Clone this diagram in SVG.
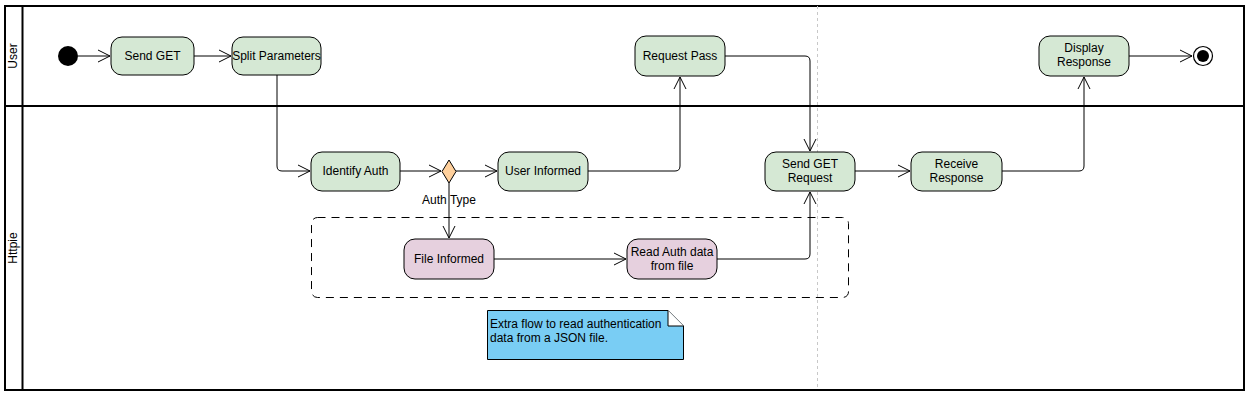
<svg xmlns="http://www.w3.org/2000/svg" width="1254" height="400" viewBox="0 0 1254 400">
<defs>
<marker id="open" viewBox="0 0 14 14" refX="13" refY="7" markerWidth="14" markerHeight="14" markerUnits="userSpaceOnUse" orient="auto">
<path d="M1,1 L13,7 L1,13" fill="none" stroke="#000" stroke-width="1"/>
</marker>
<style>
text{font-family:"Liberation Sans",Arial,sans-serif;font-size:12px;fill:#000}
.act{fill:#d5e8d4;stroke:#000;stroke-width:1}
.pink{fill:#e6d0de;stroke:#000;stroke-width:1}
.lane{fill:none;stroke:#000;stroke-width:2}
.conn{fill:none;stroke:#000;stroke-width:1;marker-end:url(#open)}
.mid{text-anchor:middle}
</style>
</defs>
<rect width="1254" height="400" fill="#fff"/>
<g id="lanes">
<rect class="lane" x="5" y="6" width="1239" height="384"/>
<line class="lane" x1="22.5" y1="6" x2="22.5" y2="390"/>
<line class="lane" x1="5" y1="106" x2="1244" y2="106"/>
<text transform="translate(17,56) rotate(-90)" class="mid">User</text>
<text transform="translate(17,248) rotate(-90)" class="mid">Httpie</text>
</g>
<line x1="817.5" y1="6" x2="817.5" y2="390" stroke="#c8c8c8" stroke-width="1" stroke-dasharray="3,3"/>
<g id="group-box">
<rect x="311.5" y="217.5" width="537" height="80" rx="6" fill="none" stroke="#000" stroke-width="1" stroke-dasharray="8,6"/>
</g>
<g id="connectors">
<line class="conn" x1="78" y1="56" x2="110" y2="56"/>
<line class="conn" x1="194" y1="56" x2="231" y2="56"/>
<path class="conn" d="M277,75 V166 Q277,171 282,171 H310"/>
<line class="conn" x1="400" y1="171" x2="441" y2="171"/>
<line class="conn" x1="456" y1="171" x2="497" y2="171"/>
<line class="conn" x1="449" y1="183" x2="449" y2="238"/>
<path class="conn" d="M588,171 H675 Q680,171 680,166 V77"/>
<path class="conn" d="M725,56 H805 Q810,56 810,61 V151"/>
<line class="conn" x1="494" y1="259" x2="626" y2="259"/>
<path class="conn" d="M717,259 H805 Q810,259 810,254 V192"/>
<line class="conn" x1="855" y1="171" x2="910" y2="171"/>
<path class="conn" d="M1002,171 H1079 Q1084,171 1084,166 V77"/>
<line class="conn" x1="1129" y1="56" x2="1192" y2="56"/>
</g>
<g id="start"><circle cx="68" cy="56" r="10" fill="#000"/></g>
<g id="send-get"><rect class="act" x="111" y="37" width="83" height="38" rx="11"/><text x="152.5" y="60" class="mid">Send GET</text></g>
<g id="split-parameters"><rect class="act" x="232" y="37" width="89" height="38" rx="11"/><text x="276.5" y="60" class="mid">Split Parameters</text></g>
<g id="identify-auth"><rect class="act" x="311" y="152" width="89" height="39" rx="11"/><text x="355.5" y="175" class="mid">Identify Auth</text></g>
<g id="decision"><path d="M449,160 L456,171.5 L449,183 L442,171.5 Z" fill="#ffd09c" stroke="#000" stroke-width="1"/><text x="449" y="204" class="mid">Auth Type</text></g>
<g id="user-informed"><rect class="act" x="498" y="152" width="90" height="39" rx="11"/><text x="543" y="175" class="mid">User Informed</text></g>
<g id="request-pass"><rect class="act" x="635" y="36" width="90" height="40" rx="11"/><text x="680" y="60" class="mid">Request Pass</text></g>
<g id="send-get-request"><rect class="act" x="765" y="152" width="90" height="39" rx="11"/><text x="810" y="168" class="mid">Send GET</text><text x="810" y="182" class="mid">Request</text></g>
<g id="receive-response"><rect class="act" x="911" y="152" width="91" height="39" rx="11"/><text x="956.5" y="168" class="mid">Receive</text><text x="956.5" y="182" class="mid">Response</text></g>
<g id="display-response"><rect class="act" x="1039" y="36" width="90" height="40" rx="11"/><text x="1084" y="52" class="mid">Display</text><text x="1084" y="66" class="mid">Response</text></g>
<g id="end"><circle cx="1203" cy="56" r="9.5" fill="#fff" stroke="#000" stroke-width="1.2"/><circle cx="1203" cy="56" r="6" fill="#000"/></g>
<g id="file-informed"><rect class="pink" x="404" y="239" width="90" height="40" rx="11"/><text x="449" y="263" class="mid">File Informed</text></g>
<g id="read-auth"><rect class="pink" x="627" y="239" width="90" height="40" rx="11"/><text x="672" y="256" class="mid">Read Auth data</text><text x="672" y="270" class="mid">from file</text></g>
<g id="note"><path d="M487.5,310.5 H668 L683.5,326 V359.5 H487.5 Z" fill="#79cdf4" stroke="#000" stroke-width="1"/><path d="M668,310.5 V326 H683.5" fill="#fff" stroke="#000" stroke-width="1"/><text x="490" y="328">Extra flow to read authentication</text><text x="490" y="342">data from a JSON file.</text></g>
</svg>
